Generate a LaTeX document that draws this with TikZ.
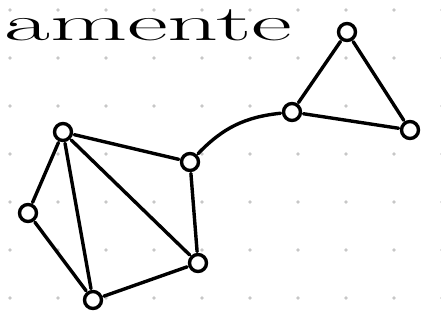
\documentclass[tikz,border=0pt]{standalone}
\begin{document}
\begin{tikzpicture}[x=1pt,y=-1pt,
  vtx/.style={circle,draw=black,line width=3.4pt,minimum size=17pt,inner sep=0pt,outer sep=3pt},
  edge/.style={draw=black,line width=3.4pt,line cap=round},
  griddot/.style={fill=black!22}]
\useasboundingbox (0,0) rectangle (441,322);
\fill[black!3!white!97!yellow!2] (0,0) rectangle (441,322);
\foreach \i in {0,...,9}{\foreach \j in {0,...,6}{
  \fill[griddot] (10+48*\i,10+48*\j) circle (1.8pt);}}
\node[anchor=base west,inner sep=0pt] (title) at (4,40) {\scalebox{2.0}[1]{\fontsize{50}{50}\selectfont amente}};
\node[vtx] (A) at (63,132) {};
\node[vtx] (B) at (190,162) {};
\node[vtx] (C) at (28,213) {};
\node[vtx] (D) at (198,263) {};
\node[vtx] (E) at (93,300) {};
\node[vtx] (F) at (292,112) {};
\node[vtx] (G) at (347,32) {};
\node[vtx] (H) at (410,130) {};
\draw[edge] (A) -- (B);
\draw[edge] (A) -- (C);
\draw[edge] (A) -- (E);
\draw[edge] (A) -- (D);
\draw[edge] (C) -- (E);
\draw[edge] (E) -- (D);
\draw[edge] (B) -- (D);
\draw[edge] (B) to[bend left=20] (F);
\draw[edge] (F) -- (G);
\draw[edge] (G) -- (H);
\draw[edge] (F) -- (H);
\end{tikzpicture}
\end{document}
